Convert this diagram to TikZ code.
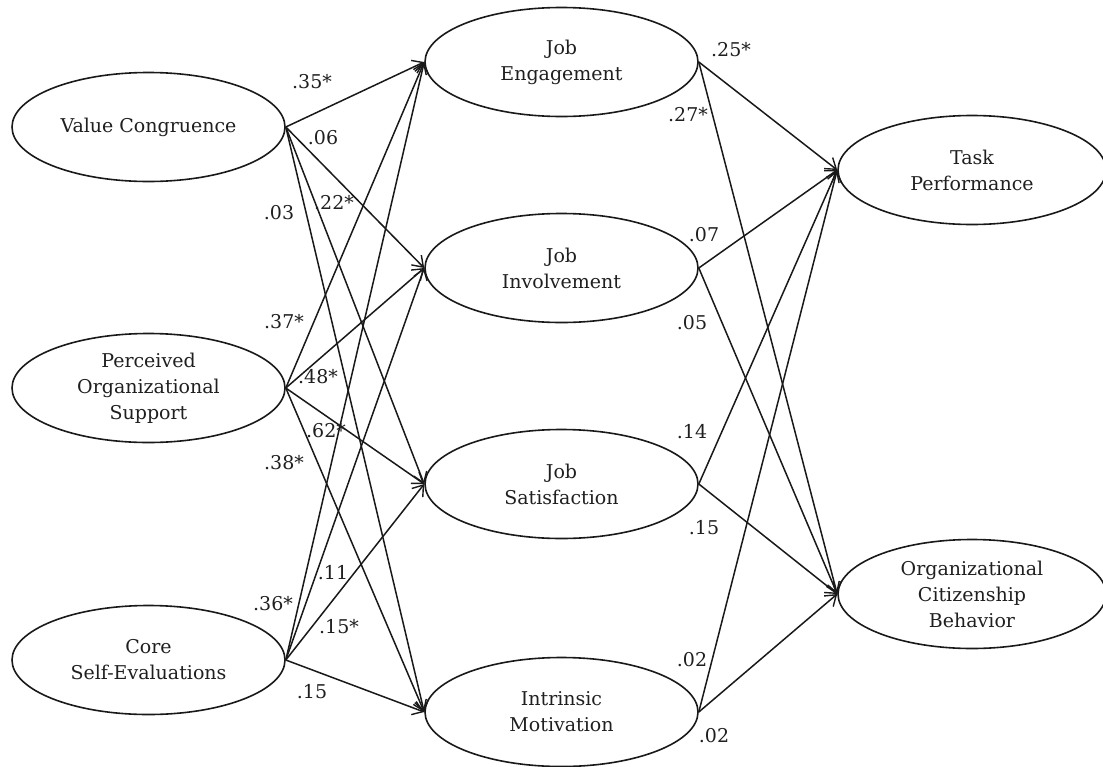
\documentclass[tikz,border=0pt]{standalone}
\usepackage{fontspec}
\setmainfont{DejaVu Serif}
\usetikzlibrary{shapes.geometric,arrows.meta}
\begin{document}
\begin{tikzpicture}[x=1pt,y=-1pt,
  lat/.style={ellipse,draw=black!90,line width=1.6pt,inner sep=0pt,minimum width=273pt,minimum height=109pt,align=center,font=\fontsize{19}{26}\selectfont,text=black!88},
  pathline/.style={draw=black!90,line width=1.5pt,-{Straight Barb[length=10pt,width=14pt,line width=1.4pt]}},
  lbl/.style={font=\fontsize{19}{26}\selectfont,inner sep=0pt,text=black!88}]
\useasboundingbox (0,0) rectangle (1103,766);
% left
\node[lat] (vc) at (148.5,127) {Value Congruence};
\node[lat] (pos) at (148.5,388) {Perceived\\Organizational\\Support};
\node[lat] (cse) at (148.5,660) {Core\\Self-Evaluations};
% middle
\node[lat] (je) at (561.5,62) {Job\\Engagement};
\node[lat] (ji) at (561.5,268) {Job\\Involvement};
\node[lat] (js) at (561.5,484) {Job\\Satisfaction};
\node[lat] (im) at (561.5,712) {Intrinsic\\Motivation};
% right
\node[lat,minimum width=268pt] (tp) at (972,170) {Task\\Performance};
\node[lat,minimum width=268pt] (ocb) at (972,594) {Organizational\\Citizenship\\Behavior};
% connectors
\foreach \s in {vc,pos,cse}{
  \foreach \t in {je,ji,js,im}{
    \draw[pathline] (\s.east) -- (\t.west);
  }
}
\foreach \s in {je,ji,js,im}{
  \foreach \t in {tp,ocb}{
    \draw[pathline] (\s.east) -- (\t.west);
  }
}
% labels left
\node[lbl] (l1) at (312,82) {.35*};
\node[lbl] (l2) at (323,138) {.06};
\node[lbl] (l3) at (334,203) {.22*};
\node[lbl] (l4) at (279,213) {.03};
\node[lbl] (l5) at (284,322) {.37*};
\node[lbl] (l6) at (318,377) {.48*};
\node[lbl] (l7) at (326,431) {.62*};
\node[lbl] (l8) at (284,463) {.38*};
\node[lbl] (l9) at (273,604) {.36*};
\node[lbl] (l10) at (333,573) {.11};
\node[lbl] (l11) at (339,627) {.15*};
\node[lbl] (l12) at (312,692) {.15};
% labels right
\node[lbl] (r1) at (731,50) {.25*};
\node[lbl] (r2) at (688,115) {.27*};
\node[lbl] (r3) at (704,235) {.07};
\node[lbl] (r4) at (692,323) {.05};
\node[lbl] (r5) at (692,432) {.14};
\node[lbl] (r6) at (704,528) {.15};
\node[lbl] (r7) at (692,660) {.02};
\node[lbl] (r8) at (714,736) {.02};
\end{tikzpicture}
\end{document}
